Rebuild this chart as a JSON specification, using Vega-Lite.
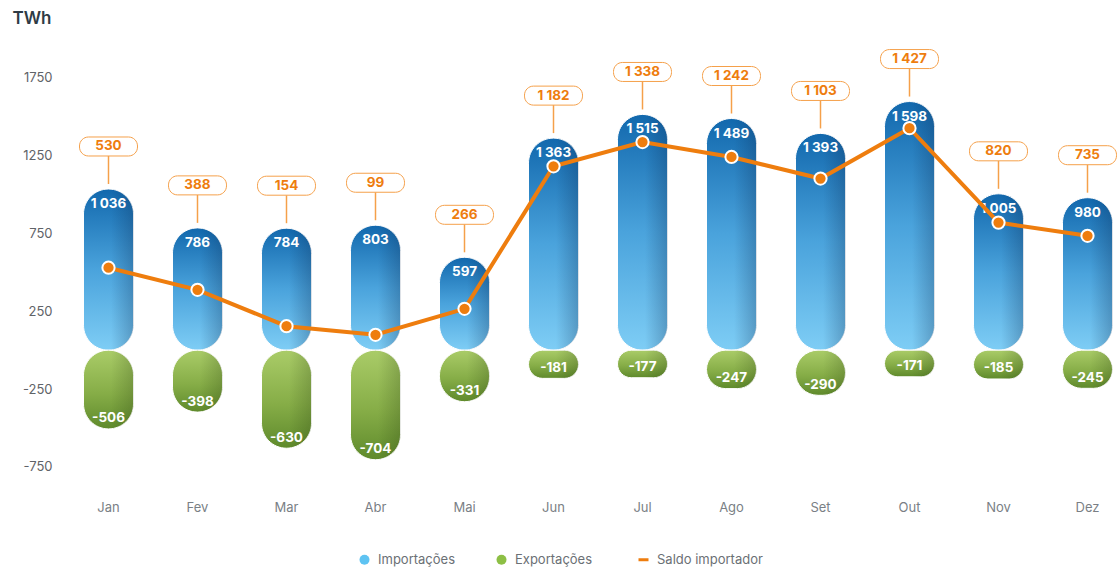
{
  "$schema": "https://vega.github.io/schema/vega-lite/v6.json",
  "autosize": {"type": "none"},
  "padding": {"left": 64, "top": 39, "right": 0, "bottom": 77},
  "width": 1055,
  "height": 459,
  "config": {
    "view": {"stroke": null},
    "font": "Inter",
    "locale": {"number": {"decimal": ",", "thousands": " ", "grouping": [3], "currency": ["", " €"], "minus": "-"}}
  },
  "data": {"values": [
    {"mes": "Jan", "imp": 1036, "exp": -506, "saldo": 530},
    {"mes": "Fev", "imp": 786, "exp": -398, "saldo": 388},
    {"mes": "Mar", "imp": 784, "exp": -630, "saldo": 154},
    {"mes": "Abr", "imp": 803, "exp": -704, "saldo": 99},
    {"mes": "Mai", "imp": 597, "exp": -331, "saldo": 266},
    {"mes": "Jun", "imp": 1363, "exp": -181, "saldo": 1182},
    {"mes": "Jul", "imp": 1515, "exp": -177, "saldo": 1338},
    {"mes": "Ago", "imp": 1489, "exp": -247, "saldo": 1242},
    {"mes": "Set", "imp": 1393, "exp": -290, "saldo": 1103},
    {"mes": "Out", "imp": 1598, "exp": -171, "saldo": 1427},
    {"mes": "Nov", "imp": 1005, "exp": -185, "saldo": 820},
    {"mes": "Dez", "imp": 980, "exp": -245, "saldo": 735}
  ]},
  "encoding": {
    "x": {"field": "mes", "type": "nominal", "sort": null,
      "scale": {"paddingInner": 0, "paddingOuter": 0, "range": [0, 1068]},
      "axis": {"title": null, "labelAngle": 0, "domain": false, "ticks": false, "labelPadding": 3, "labelColor": "#7a7f85", "labelFontSize": 13}}
  },
  "layer": [
    {
      "mark": {"type": "bar", "width": 50, "cornerRadius": 25, "stroke": "#ffffff", "strokeWidth": 1,
        "color": {"gradient": "linear", "x1": 0, "y1": 0, "x2": 0, "y2": 1,
          "stops": [{"offset": 0, "color": "#1268ad"}, {"offset": 0.5, "color": "#4aa3dc"}, {"offset": 1, "color": "#7ecdf5"}]}},
      "encoding": {
        "y": {"field": "imp", "type": "quantitative", "scale": {"domain": [-950, 2000], "nice": false, "zero": false},
          "axis": {"values": [-750, -250, 250, 750, 1250, 1750], "format": "d", "grid": false, "domain": false, "ticks": false,
            "labelPadding": 12, "labelColor": "#5f6368", "labelFontSize": 13,
            "title": "TWh", "titleAngle": 0, "titleX": -52, "titleY": -21, "titleAlign": "left", "titleBaseline": "middle",
            "titleFontSize": 17, "titleFontWeight": 600, "titleColor": "#2f3b45"}},
        "y2": {"datum": 0}
      }
    },
    {
      "mark": {"type": "bar", "width": 50, "cornerRadius": 25,
        "color": {"gradient": "linear", "x1": 0, "y1": 0, "x2": 1, "y2": 0,
          "stops": [{"offset": 0, "color": "rgba(10,40,80,0)"}, {"offset": 0.55, "color": "rgba(10,40,80,0)"}, {"offset": 1, "color": "rgba(10,40,80,0.28)"}]}},
      "encoding": {"y": {"field": "imp", "type": "quantitative"}, "y2": {"datum": 0}}
    },
    {
      "mark": {"type": "bar", "width": 50, "cornerRadius": 25, "stroke": "#ffffff", "strokeWidth": 1,
        "color": {"gradient": "linear", "x1": 0, "y1": 0, "x2": 0, "y2": 1,
          "stops": [{"offset": 0, "color": "#aacc68"}, {"offset": 0.55, "color": "#86ad47"}, {"offset": 1, "color": "#5f8a2c"}]}},
      "encoding": {"y": {"field": "exp", "type": "quantitative"}, "y2": {"datum": 0}}
    },
    {
      "mark": {"type": "bar", "width": 50, "cornerRadius": 25,
        "color": {"gradient": "linear", "x1": 0, "y1": 0, "x2": 1, "y2": 0,
          "stops": [{"offset": 0, "color": "rgba(30,50,10,0)"}, {"offset": 0.55, "color": "rgba(30,50,10,0)"}, {"offset": 1, "color": "rgba(30,50,10,0.22)"}]}},
      "encoding": {"y": {"field": "exp", "type": "quantitative"}, "y2": {"datum": 0}}
    },
    {
      "mark": {"type": "rule", "color": "#f5a04a", "strokeWidth": 1.5, "yOffset": -5, "y2Offset": -33},
      "encoding": {"y": {"field": "imp", "type": "quantitative"}, "y2": {"field": "imp"}}
    },
    {
      "mark": {"type": "bar", "width": 58, "cornerRadius": 9, "fill": "#ffffff", "stroke": "#f5a04a", "strokeWidth": 1, "yOffset": -33, "y2Offset": -52},
      "encoding": {"y": {"field": "imp", "type": "quantitative"}, "y2": {"field": "imp"}}
    },
    {
      "mark": {"type": "text", "color": "#ee7d0e", "fontSize": 13.5, "fontWeight": 700, "baseline": "middle", "yOffset": -42.5},
      "encoding": {"y": {"field": "imp", "type": "quantitative"}, "text": {"field": "saldo", "type": "quantitative", "format": ",d"}}
    },
    {
      "mark": {"type": "text", "color": "#ffffff", "fontSize": 13.5, "fontWeight": 700, "baseline": "middle", "yOffset": 15},
      "encoding": {"y": {"field": "imp", "type": "quantitative"}, "text": {"field": "imp", "type": "quantitative", "format": ",d"}}
    },
    {
      "mark": {"type": "text", "color": "#ffffff", "fontSize": 13.5, "fontWeight": 700, "baseline": "middle", "yOffset": -10.5},
      "encoding": {"y": {"field": "exp", "type": "quantitative"}, "text": {"field": "exp", "type": "quantitative", "format": ",d"}}
    },
    {
      "mark": {"type": "line", "color": "#ee7d0e", "strokeWidth": 4},
      "encoding": {"y": {"field": "saldo", "type": "quantitative"}}
    },
    {
      "mark": {"type": "point", "filled": true, "fill": "#ee7d0e", "stroke": "#ffffff", "strokeWidth": 2, "size": 150, "opacity": 1},
      "encoding": {"y": {"field": "saldo", "type": "quantitative"}}
    },
    {
      "data": {"values": [{"serie": "Importações"}, {"serie": "Exportações"}, {"serie": "Saldo importador"}]},
      "mark": {"type": "point", "filled": true, "opacity": 0},
      "encoding": {
        "x": {"value": 0},
        "y": {"value": 0},
        "color": {"field": "serie", "type": "nominal",
          "scale": {"domain": ["Importações", "Exportações", "Saldo importador"], "range": ["#5ec3f2", "#8dbf45", "#ee7d0e"]},
          "legend": {"title": null, "orient": "none", "direction": "horizontal", "legendX": 294, "legendY": 514,
            "padding": 0, "columnPadding": 39, "labelFontSize": 13, "labelColor": "#6b7075", "labelOffset": 7,
            "symbolOpacity": 1, "symbolSize": 100,
            "encode": {"symbols": {"update": {
              "shape": {"signal": "datum.value === 'Saldo importador' ? 'stroke' : 'circle'"},
              "fill": {"signal": "datum.value === 'Saldo importador' ? 'transparent' : scale('color', datum.value)"},
              "stroke": {"signal": "scale('color', datum.value)"},
              "strokeWidth": {"signal": "datum.value === 'Saldo importador' ? 3 : 0"},
              "opacity": {"value": 1}
            }}}}}
      }
    }
  ]
}
